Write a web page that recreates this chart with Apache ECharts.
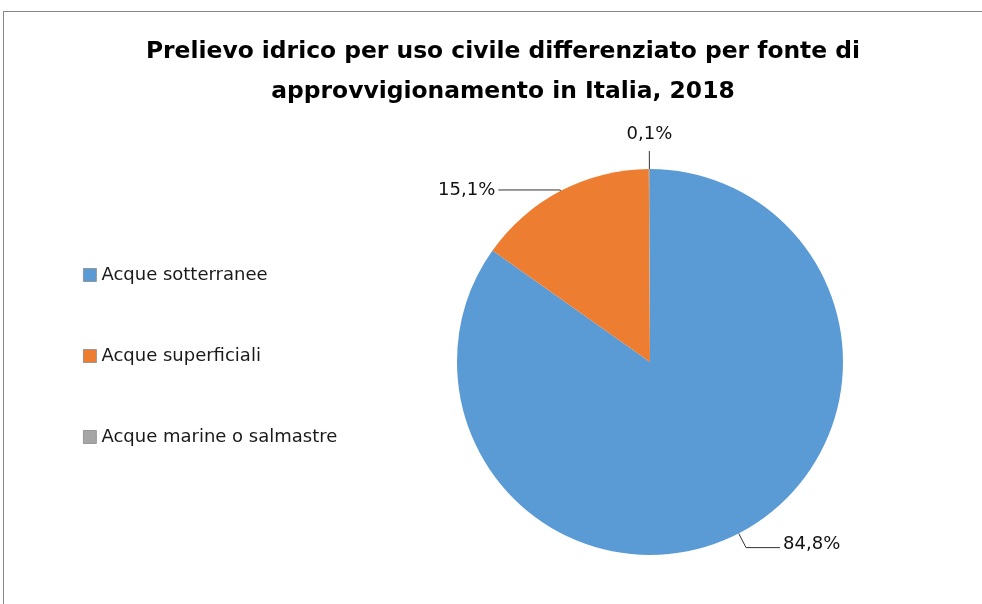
<!DOCTYPE html>
<html><head><meta charset="utf-8">
<script src="https://cdn.jsdelivr.net/npm/echarts@6/dist/echarts.min.js"></script>
<style>
html,body{margin:0;padding:0;background:#fff;}
#frame{position:absolute;left:3px;top:11px;width:979px;height:593px;border-top:1.5px solid #888;border-left:1.5px solid #888;box-sizing:border-box;}
#c{position:absolute;left:0;top:0;width:982px;height:604px;}
</style></head><body>
<div id="frame"></div>
<div id="c"></div>
<script>
const titleLines = ["Prelievo idrico per uso civile differenziato per fonte di", "approvvigionamento in Italia, 2018"];
const categories = ["Acque sotterranee", "Acque superficiali", "Acque marine o salmastre"];
const values = [84.8, 15.1, 0.1];
const colors = ["#5B9BD5", "#ED7D31", "#A5A5A5"];
const FONT = "DejaVu Sans";

// per-slice leader-line styling (not data)
const leader = [
  {length: 16, length2: 34},
  {length: 1, length2: 62},
  {length: 18, length2: 0}
];

const chart = echarts.init(document.getElementById('c'));
chart.setOption({
  animation: false,
  color: colors,
  title: {
    text: titleLines.join("\n"),
    left: 498, top: 27, textAlign: 'center',
    textStyle: {fontFamily: FONT, fontWeight: 'bold', fontSize: 23.4, lineHeight: 40, color: '#000'}
  },
  legend: {
    orient: 'vertical', left: 78, top: 261,
    itemWidth: 13, itemHeight: 13, itemGap: 63, icon: 'rect',
    itemStyle: {borderColor: '#8a8a8a', borderWidth: 0.8},
    textStyle: {fontFamily: FONT, fontSize: 18, color: '#1a1a1a', padding: [0, 0, 0, 0]},
    data: categories
  },
  series: [{
    type: 'pie',
    center: [650, 362], radius: 193,
    startAngle: 90, clockwise: true,
    itemStyle: {borderColor: '#fff', borderWidth: 0},
    label: {
      show: true, position: 'outside', distanceToLabelLine: 3,
      fontFamily: FONT, fontSize: 18, color: '#111',
      formatter: p => p.value.toFixed(1).replace('.', ',') + '%'
    },
    labelLine: {show: true, lineStyle: {color: '#333', width: 1}},
    labelLayout: p => p.dataIndex === 2 ? {dx: 26, dy: -17} : (p.dataIndex === 0 ? {dy: -3} : {}),
    data: categories.map((n, i) => ({name: n, value: values[i], labelLine: leader[i]}))
  }]
});
</script>
</body></html>
